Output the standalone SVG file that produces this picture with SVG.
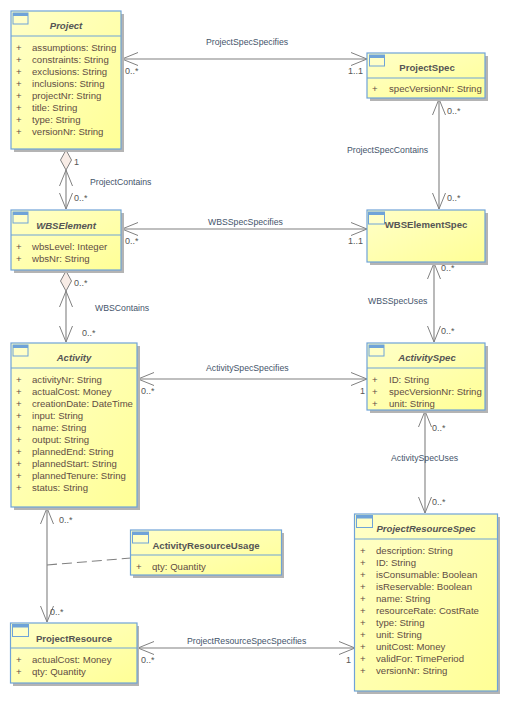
<svg xmlns="http://www.w3.org/2000/svg" width="509" height="702" viewBox="0 0 509 702">
<defs>
<linearGradient id="fill" x1="0" y1="0" x2="1" y2="1"><stop offset="0" stop-color="#ffffc8"/><stop offset="1" stop-color="#ffff96"/></linearGradient>
<marker id="open" markerWidth="18" markerHeight="16" refX="16" refY="8" orient="auto-start-reverse" markerUnits="userSpaceOnUse"><path d="M0,1.5 L16,8 L0,14.5" fill="none" stroke="#808080" stroke-width="1"/></marker>
</defs>
<style>
text{font-family:"Liberation Sans",Arial,sans-serif;font-size:9.6px;fill:#5f4d44}
.box{fill:url(#fill);stroke:#6fa3d8;stroke-width:1.2}
.shadow{fill:#b4b4b4}
.div{stroke:#6fa3d8;stroke-width:1.2}
.ic{fill:#ffffc8;stroke:#6fa3d8;stroke-width:1}
.ict{fill:#6fa3d8}
.t{font-weight:700;font-size:9.6px;fill:#555;text-anchor:middle}
.a{font-style:italic}
.l,.m{fill:#44546a;font-size:8.7px}
.m{fill:#555;font-size:9px}
.c{fill:none;stroke:#808080;stroke-width:1.1}
.d{fill:#f8ece6;stroke:#808080;stroke-width:1}
</style>
<g id="connectors">
<line class="c" x1="122" y1="59" x2="367" y2="59" marker-start="url(#open)" marker-end="url(#open)"/>
<line class="c" x1="66" y1="170" x2="66" y2="209" marker-start="url(#open)" marker-end="url(#open)"/>
<path class="d" d="M66,150 L71.500,160 L66,170 L60.500,160 Z"/>
<line class="c" x1="122" y1="229" x2="367" y2="229" marker-start="url(#open)" marker-end="url(#open)"/>
<line class="c" x1="439" y1="99" x2="439" y2="209" marker-start="url(#open)" marker-end="url(#open)"/>
<line class="c" x1="66" y1="291" x2="66" y2="342" marker-start="url(#open)" marker-end="url(#open)"/>
<path class="d" d="M66,271 L71.500,281 L66,291 L60.500,281 Z"/>
<line class="c" x1="434" y1="263" x2="434" y2="342" marker-start="url(#open)" marker-end="url(#open)"/>
<line class="c" x1="138" y1="379" x2="367" y2="379" marker-start="url(#open)" marker-end="url(#open)"/>
<line class="c" x1="425" y1="411" x2="425" y2="513" marker-start="url(#open)" marker-end="url(#open)"/>
<line class="c" x1="47" y1="508" x2="47" y2="622" marker-start="url(#open)" marker-end="url(#open)"/>
<line class="c" x1="47" y1="565" x2="131" y2="558" stroke-dasharray="10 5"/>
<line class="c" x1="138" y1="648" x2="355" y2="648" marker-start="url(#open)" marker-end="url(#open)"/>
</g>
<g id="Project"><rect class="shadow" x="14" y="14" width="110" height="138"/><rect class="box" x="11" y="11" width="110" height="138"/><line class="div" x1="11" y1="36" x2="121" y2="36"/><rect class="ic" x="13" y="13" width="15" height="11"/><rect class="ict" x="13" y="13" width="15" height="3"/>
<text class="t a" x="66" y="29">Project</text>
<text x="16" y="51">+</text><text x="32" y="51">assumptions: String</text>
<text x="16" y="63">+</text><text x="32" y="63">constraints: String</text>
<text x="16" y="75">+</text><text x="32" y="75">exclusions: String</text>
<text x="16" y="87">+</text><text x="32" y="87">inclusions: String</text>
<text x="16" y="99">+</text><text x="32" y="99">projectNr: String</text>
<text x="16" y="111">+</text><text x="32" y="111">title: String</text>
<text x="16" y="123">+</text><text x="32" y="123">type: String</text>
<text x="16" y="135">+</text><text x="32" y="135">versionNr: String</text></g>
<g id="WBSElement"><rect class="shadow" x="14" y="213" width="110" height="60"/><rect class="box" x="11" y="210" width="110" height="60"/><line class="div" x1="11" y1="235" x2="121" y2="235"/><rect class="ic" x="13" y="212" width="15" height="11"/><rect class="ict" x="13" y="212" width="15" height="3"/>
<text class="t a" x="66" y="229">WBSElement</text>
<text x="16" y="250">+</text><text x="32" y="250">wbsLevel: Integer</text>
<text x="16" y="262">+</text><text x="32" y="262">wbsNr: String</text></g>
<g id="ProjectSpec"><rect class="shadow" x="370" y="56" width="118" height="45"/><rect class="box" x="367" y="53" width="118" height="45"/><line class="div" x1="367" y1="78" x2="485" y2="78"/><rect class="ic" x="369.500" y="55" width="15" height="11"/><rect class="ict" x="369.500" y="55" width="15" height="3"/>
<text class="t" x="427" y="71">ProjectSpec</text>
<text x="372" y="92">+</text><text x="389" y="92">specVersionNr: String</text></g>
<g id="WBSElementSpec"><rect class="shadow" x="370" y="213" width="118" height="52"/><rect class="box" x="367" y="210" width="118" height="52"/><rect class="ic" x="368.500" y="212" width="16" height="12"/><rect class="ict" x="368.500" y="212" width="16" height="3"/>
<text class="t" x="426" y="228">WBSElementSpec</text></g>
<g id="Activity"><rect class="shadow" x="14" y="346" width="126" height="164"/><rect class="box" x="11" y="343" width="126" height="164"/><line class="div" x1="11" y1="368" x2="137" y2="368"/><rect class="ic" x="13" y="345" width="15" height="11"/><rect class="ict" x="13" y="345" width="15" height="3"/>
<text class="t a" x="74" y="361">Activity</text>
<text x="16" y="383">+</text><text x="32" y="383">activityNr: String</text>
<text x="16" y="395">+</text><text x="32" y="395">actualCost: Money</text>
<text x="16" y="407">+</text><text x="32" y="407">creationDate: DateTime</text>
<text x="16" y="419">+</text><text x="32" y="419">input: String</text>
<text x="16" y="431">+</text><text x="32" y="431">name: String</text>
<text x="16" y="443">+</text><text x="32" y="443">output: String</text>
<text x="16" y="455">+</text><text x="32" y="455">plannedEnd: String</text>
<text x="16" y="467">+</text><text x="32" y="467">plannedStart: String</text>
<text x="16" y="479">+</text><text x="32" y="479">plannedTenure: String</text>
<text x="16" y="491">+</text><text x="32" y="491">status: String</text></g>
<g id="ActivitySpec"><rect class="shadow" x="370" y="346" width="118" height="67"/><rect class="box" x="367" y="343" width="118" height="67"/><line class="div" x1="367" y1="368" x2="485" y2="368"/><rect class="ic" x="369" y="345" width="15" height="11"/><rect class="ict" x="369" y="345" width="15" height="3"/>
<text class="t a" x="427" y="361">ActivitySpec</text>
<text x="372" y="383">+</text><text x="389" y="383">ID: String</text>
<text x="372" y="395">+</text><text x="389" y="395">specVersionNr: String</text>
<text x="372" y="407">+</text><text x="389" y="407">unit: String</text></g>
<g id="ProjectResourceSpec"><rect class="shadow" x="357" y="517" width="143" height="177"/><rect class="box" x="354.500" y="514" width="143" height="177"/><line class="div" x1="354.500" y1="539" x2="497.500" y2="539"/><rect class="ic" x="356.500" y="515.500" width="16" height="12"/><rect class="ict" x="356.500" y="515.500" width="16" height="3"/>
<text class="t a" x="426" y="532">ProjectResourceSpec</text>
<text x="360" y="554">+</text><text x="376" y="554">description: String</text>
<text x="360" y="566">+</text><text x="376" y="566">ID: String</text>
<text x="360" y="578">+</text><text x="376" y="578">isConsumable: Boolean</text>
<text x="360" y="590">+</text><text x="376" y="590">isReservable: Boolean</text>
<text x="360" y="602">+</text><text x="376" y="602">name: String</text>
<text x="360" y="614">+</text><text x="376" y="614">resourceRate: CostRate</text>
<text x="360" y="626">+</text><text x="376" y="626">type: String</text>
<text x="360" y="638">+</text><text x="376" y="638">unit: String</text>
<text x="360" y="650">+</text><text x="376" y="650">unitCost: Money</text>
<text x="360" y="662">+</text><text x="376" y="662">validFor: TimePeriod</text>
<text x="360" y="674">+</text><text x="376" y="674">versionNr: String</text></g>
<g id="ActivityResourceUsage"><rect class="shadow" x="133" y="533" width="151" height="45"/><rect class="box" x="130.500" y="530" width="151" height="45"/><line class="div" x1="130.500" y1="555" x2="281.500" y2="555"/><rect class="ic" x="132.500" y="532" width="16" height="11"/><rect class="ict" x="132.500" y="532" width="16" height="3"/>
<text class="t" x="206" y="549">ActivityResourceUsage</text>
<text x="136" y="570">+</text><text x="152" y="570">qty: Quantity</text></g>
<g id="ProjectResource"><rect class="shadow" x="13" y="626" width="126" height="60"/><rect class="box" x="10.500" y="623" width="126.500" height="60"/><line class="div" x1="10.500" y1="648" x2="137" y2="648"/><rect class="ic" x="12.500" y="624.500" width="16" height="12"/><rect class="ict" x="12.500" y="624.500" width="16" height="3"/>
<text class="t" x="74" y="642">ProjectResource</text>
<text x="16" y="663">+</text><text x="32" y="663">actualCost: Money</text>
<text x="16" y="675">+</text><text x="32" y="675">qty: Quantity</text></g>
<g id="labels">
<text class="l" x="206" y="45">ProjectSpecSpecifies</text>
<text class="l" x="90" y="185">ProjectContains</text>
<text class="l" x="347" y="153">ProjectSpecContains</text>
<text class="l" x="208" y="225">WBSSpecSpecifies</text>
<text class="l" x="95" y="311">WBSContains</text>
<text class="l" x="368" y="304">WBSSpecUses</text>
<text class="l" x="206" y="371">ActivitySpecSpecifies</text>
<text class="l" x="391" y="461">ActivitySpecUses</text>
<text class="l" x="187" y="644">ProjectResourceSpecSpecifies</text>
<text class="m" x="125" y="74">0..*</text><text class="m" x="348" y="74">1..1</text>
<text class="m" x="74" y="165">1</text><text class="m" x="74" y="201">0..*</text>
<text class="m" x="447" y="114">0..*</text><text class="m" x="447" y="201">0..*</text>
<text class="m" x="125" y="244">0..*</text><text class="m" x="348" y="244">1..1</text>
<text class="m" x="74" y="286">0..*</text><text class="m" x="82" y="336">0..*</text>
<text class="m" x="441" y="271">0..*</text><text class="m" x="441" y="334">0..*</text>
<text class="m" x="141" y="394">0..*</text><text class="m" x="360" y="394">1</text>
<text class="m" x="432" y="431">0..*</text><text class="m" x="432" y="505">0..*</text>
<text class="m" x="59" y="523">0..*</text><text class="m" x="50" y="615">0..*</text>
<text class="m" x="141" y="663">0..*</text><text class="m" x="346" y="663">1</text>
</g>
</svg>
